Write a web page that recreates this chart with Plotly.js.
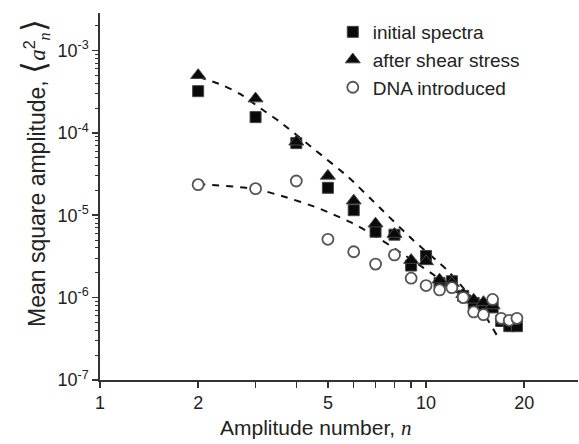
<!DOCTYPE html>
<html>
<head>
<meta charset="utf-8">
<script src="https://cdn.plot.ly/plotly-3.0.1.min.js"></script>
<style>html,body{margin:0;padding:0;background:#fff;}#chart{width:579px;height:444px;}</style>
</head>
<body>
<div id="chart"></div>
<script>
// Amplitude numbers
const nInitial = [2,3,4,5,6,7,8,9,10,11,12,13,14,15,16,17,18,19];
const initialSpectra = [3.2e-4,1.55e-4,7.5e-5,2.15e-5,1.15e-5,6.3e-6,5.8e-6,2.45e-6,3.2e-6,1.5e-6,1.58e-6,1.05e-6,8.6e-7,7.5e-7,7.6e-7,5.2e-7,4.5e-7,4.5e-7];

const nShear = [2,3,4,5,6,7,8,9,10,11,12,13,14,15,16];
const afterShear = [5.0e-4,2.6e-4,7.8e-5,3.0e-5,1.5e-5,7.9e-6,5.9e-6,2.85e-6,2.75e-6,1.65e-6,1.5e-6,1.1e-6,9.4e-7,8.8e-7,8.0e-7];

const nDNA = [2,3,4,5,6,7,8,9,10,11,12,13,14,15,16,17,18,19];
const dnaIntroduced = [2.35e-5,2.1e-5,2.6e-5,5.1e-6,3.6e-6,2.55e-6,3.3e-6,1.72e-6,1.4e-6,1.24e-6,1.32e-6,1.0e-6,6.7e-7,6.2e-7,9.5e-7,5.6e-7,5.3e-7,5.6e-7];

// Dashed fit curves
const nFitUpper = [2.01,2.37,2.69,3.16,3.57,4.57,5.77,7.23,9.12,11.6,13.0,14.6,16.6];
const fitUpper = [4.75e-4,3.8e-4,2.96e-4,1.89e-4,1.35e-4,6.18e-5,2.91e-5,1.22e-5,5.0e-6,2.16e-6,1.31e-6,7.7e-7,3.33e-7];
const nFitLower = [2,3,3.7,4.62,5.2,5.84,6.5,7.3,8.2,10.4,12.5,15];
const fitLower = [2.4e-5,2.08e-5,1.66e-5,1.24e-5,1.02e-5,8.3e-6,6.6e-6,5.0e-6,3.7e-6,1.97e-6,1.15e-6,6.5e-7];

const xTickVals = [1,2,3,4,5,6,7,8,9,10,20];
const xTickText = ['1','2','','','5','','','','','10','20'];
const yTickVals = [1e-7,1e-6,1e-5,1e-4,1e-3];
const yTickText = ['10<sup>-7</sup>','10<sup>-6</sup>','10<sup>-5</sup>','10<sup>-4</sup>','10<sup>-3</sup>'];

const yMinor = [];
for (let e = -7; e <= -3; e++) for (let d = 2; d <= 9; d++) yMinor.push(d * Math.pow(10, e));

const FONT = 'Liberation Sans, Arial, sans-serif';
const dashStyle = {color:'#111', width:2, dash:'7px,7px', shape:'spline', smoothing:0.6};

const traces = [
  {x:nFitUpper, y:fitUpper, mode:'lines', line:dashStyle, showlegend:false, hoverinfo:'skip'},
  {x:nFitLower, y:fitLower, mode:'lines', line:dashStyle, showlegend:false, hoverinfo:'skip'},
  {x:nInitial, y:initialSpectra, mode:'markers', name:'initial spectra',
   marker:{symbol:'square', size:11, color:'#0a0a0a', line:{color:'#444', width:1}}},
  {x:nShear, y:afterShear, mode:'markers', name:'after shear stress',
   marker:{symbol:'triangle-up', size:13, color:'#0a0a0a', line:{color:'#444', width:1}}},
  {x:nDNA, y:dnaIntroduced, mode:'markers', name:'DNA introduced',
   marker:{symbol:'circle', size:11, color:'#fff', line:{color:'#555', width:1.8}}}
];

const axisCommon = {
  showline:true, linecolor:'#333', linewidth:1.6, mirror:false,
  ticks:'outside', ticklen:6, tickwidth:1.5, tickcolor:'#333',
  showgrid:false, zeroline:false,
  tickfont:{family:FONT, size:18, color:'#222'}
};

const layout = {
  width:579, height:444,
  margin:{l:100, r:1, t:13, b:64, pad:0},
  paper_bgcolor:'#fff', plot_bgcolor:'#fff',
  xaxis:Object.assign({}, axisCommon, {
    type:'log', range:[0, 1.466],
    tickmode:'array', tickvals:xTickVals, ticktext:xTickText
  }),
  yaxis:Object.assign({}, axisCommon, {
    type:'log', range:[-7, -2.546],
    tickmode:'array', tickvals:yTickVals, ticktext:yTickText,
    minor:{tickmode:'array', tickvals:yMinor, ticks:'outside', ticklen:3, tickwidth:1, tickcolor:'#333', showgrid:false}
  }),
  legend:{x:0.487, y:1.0, xanchor:'left', yanchor:'top', bgcolor:'rgba(0,0,0,0)',
    font:{family:FONT, size:19, color:'#222'}, tracegroupgap:0},
  annotations:[
    {xref:'paper', yref:'paper', x:(315-100)/478, y:(380-428)/367, xanchor:'center', yanchor:'middle',
     showarrow:false, text:'Amplitude number, <span style="font-family:Liberation Serif;font-style:italic">n</span>',
     font:{family:FONT, size:21, color:'#222'}},
    {xref:'paper', yref:'paper', x:(34-100)/478, y:(380-173)/367, xanchor:'center', yanchor:'middle',
     textangle:-90, showarrow:false,
     text:'Mean square amplitude, <span style="font-size:33px">⟨</span><span style="font-family:Liberation Serif;font-style:italic">a</span><sup>2</sup><sub><span style="font-family:Liberation Serif;font-style:italic">n</span></sub><span style="font-size:33px">⟩</span>',
     font:{family:FONT, size:23, color:'#222'}}
  ]
};

Plotly.newPlot('chart', traces, layout, {staticPlot:true, displayModeBar:false});
</script>
</body>
</html>
